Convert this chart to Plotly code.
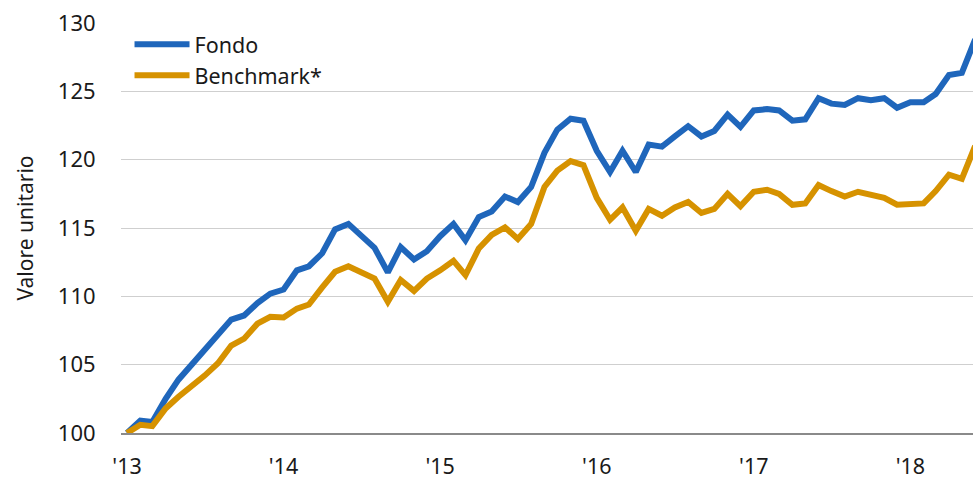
import pandas as pd
import plotly.graph_objects as go

months = pd.date_range("2013-01-01", periods=66, freq="MS")

fondo = [100.0, 100.9, 100.8, 102.5, 103.9, 105.0, 106.1, 107.1, 108.3, 108.6, 109.5, 110.2,
         110.5, 111.9, 112.2, 113.15, 114.9, 115.3, 114.4, 113.55, 111.75, 113.6, 112.7, 113.3,
         114.4, 115.3, 114.1, 115.8, 116.2, 117.3, 116.9, 118.0, 120.5, 122.2, 123.0, 122.85,
         120.65, 119.1, 120.65, 119.1, 121.1, 120.95, 121.7, 122.45, 121.7, 122.1, 123.3, 122.4,
         123.6, 123.7, 123.6, 122.85, 122.95, 124.5, 124.1, 124.0, 124.5, 124.35, 124.5, 123.8,
         124.2, 124.2, 124.8, 126.2, 126.35, 128.8]

benchmark = [100.0, 100.6, 100.5, 101.8, 102.65, 103.4, 104.2, 105.1, 106.4, 106.9, 108.0, 108.5,
             108.45, 109.1, 109.4, 110.65, 111.8, 112.2, 111.8, 111.3, 109.6, 111.2, 110.4, 111.3,
             111.9, 112.6, 111.55, 113.5, 114.5, 115.05, 114.2, 115.3, 118.0, 119.2, 119.9, 119.6,
             117.2, 115.6, 116.5, 114.8, 116.4, 115.9, 116.5, 116.9, 116.1, 116.4, 117.5, 116.6,
             117.65, 117.8, 117.5, 116.7, 116.8, 118.15, 117.7, 117.3, 117.65, 117.4, 117.2, 116.7,
             116.8, 116.8, 117.7, 118.9, 118.6, 121.0]

series_names = ["Fondo", "Benchmark*"]
y_ticks = [100, 105, 110, 115, 120, 125, 130]

BLUE = "#1F66BB"
GOLD = "#D69200"
FONT = "Noto Sans, Open Sans, sans-serif"
TXT = "#1a1a1a"

fig = go.Figure()
fig.add_trace(go.Scatter(x=months, y=fondo, name=series_names[0], mode="lines",
                         line=dict(color=BLUE, width=6)))
fig.add_trace(go.Scatter(x=months, y=benchmark, name=series_names[1], mode="lines",
                         line=dict(color=GOLD, width=6)))

fig.update_layout(
    width=973, height=479,
    margin=dict(l=121, r=0, t=23, b=46, autoexpand=False),
    paper_bgcolor="white", plot_bgcolor="white",
    font=dict(family=FONT, size=21, color=TXT),
    showlegend=True,
    legend=dict(x=0.01, y=0.998, xanchor="left", yanchor="top",
                font=dict(family=FONT, size=21.5, color=TXT),
                bgcolor="rgba(0,0,0,0)", itemwidth=55, tracegroupgap=0),
    xaxis=dict(
        range=["2012-12-18", "2018-05-27"],
        tick0="2013-01-01", dtick="M12", tickformat="'%y",
        showgrid=False, zeroline=False,
        showline=True, linecolor="#8a8a8a", linewidth=1.5,
        ticks="outside", ticklen=13, tickcolor="rgba(0,0,0,0)",
        tickfont=dict(family=FONT, size=21.5, color=TXT),
        automargin=False,
    ),
    yaxis=dict(
        range=[100, 130], tickvals=y_ticks,
        showgrid=True, gridcolor="#cfcfcf", gridwidth=1,
        zeroline=False, showline=False,
        ticks="outside", ticklen=20, tickcolor="rgba(0,0,0,0)",
        tickfont=dict(family=FONT, size=22, color=TXT),
        title=dict(text="Valore unitario", standoff=18,
                   font=dict(family=FONT, size=21, color=TXT)),
        automargin=False,
    ),
)

fig.write_html("out.html",
               config={"displayModeBar": False},
               post_script="document.body.style.margin='0';document.body.style.padding='0';")
